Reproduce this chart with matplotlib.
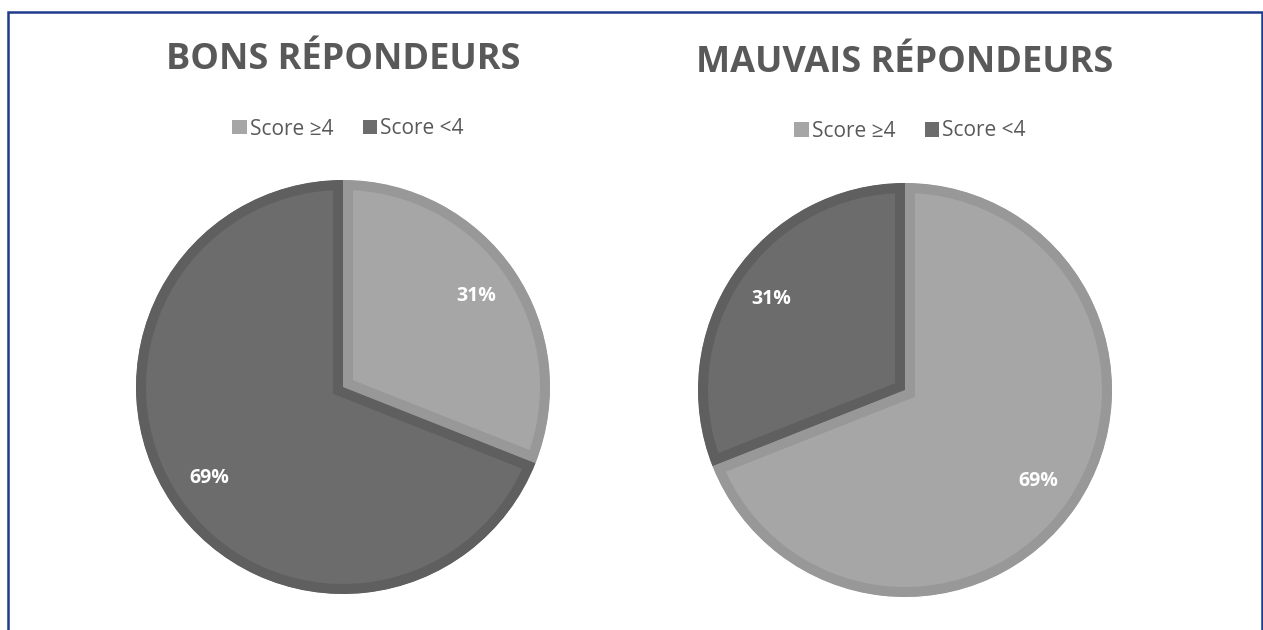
import matplotlib.pyplot as plt
from matplotlib.patches import Rectangle

# Data

categories = ["Score ≥4", "Score <4"]
bons = [31, 69]
mauvais = [69, 31]
titles = ["BONS RÉPONDEURS", "MAUVAIS RÉPONDEURS"]

fills = ["#a6a6a6", "#6c6c6c"]
edges = ["#989898", "#5f5f5f"]

W, H = 1263, 630
fig = plt.figure(figsize=(W / 100, H / 100), dpi=100)
fig.patch.set_facecolor("white")

# blue frame
fig.patches.append(Rectangle((8 / W, -0.05), (1262 - 8) / W, (H - 12) / H + 0.05,
                             transform=fig.transFigure, fill=False,
                             edgecolor="#1f3c8c", linewidth=1.8))

# pie centres and radius in pixels
centres = [(343, 387), (905, 390)]
r = 207
title_y = [60, 63]
legend_y = [129, 131]

for i, vals in enumerate([bons, mauvais]):
    cx, cy = centres[i]
    ax = fig.add_axes([(cx - r) / W, (H - cy - r) / H, 2 * r / W, 2 * r / H])
    wedges, texts, autotexts = ax.pie(vals, colors=fills, startangle=90, counterclock=False,
                                      autopct="%d%%", pctdistance=0.78,
                                      textprops=dict(color="white", fontsize=14,
                                                     fontweight="bold", family="Open Sans"))
    # inset border: wide edge clipped to the wedge itself
    for w, ec in zip(wedges, edges):
        w.set_edgecolor(ec)
        w.set_linewidth(14.4)
        w.set_clip_path(w)
        w.set_clip_on(True)
    ax.set_xlim(-1, 1)
    ax.set_ylim(-1, 1)
    ax.set_aspect("equal")
    ax.axis("off")

    fig.text(cx / W, 1 - title_y[i] / H, titles[i], ha="center", va="center",
             fontsize=26, fontweight="bold", color="#595959", family="Open Sans")

    leg = fig.legend(wedges, categories, loc="center", ncol=2, frameon=False,
                     bbox_to_anchor=((cx + 5) / W, 1 - legend_y[i] / H),
                     handlelength=0.7, handleheight=0.7, handletextpad=0.15,
                     columnspacing=1.4, prop=dict(family="Open Sans", size=15))
    for t in leg.get_texts():
        t.set_color("#595959")
    for h in leg.legend_handles:
        h.set_linewidth(0)

fig.savefig("out.png", dpi=100)
